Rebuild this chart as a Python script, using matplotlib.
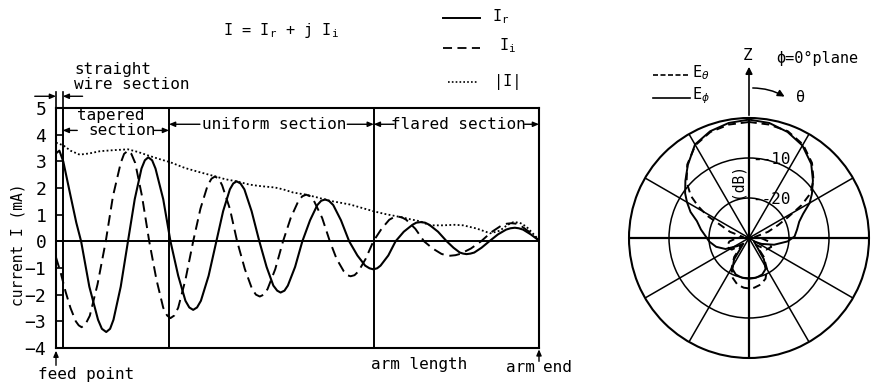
import numpy as np
import matplotlib
matplotlib.use("Agg")
import matplotlib.pyplot as plt
from matplotlib.lines import Line2D
from matplotlib.patches import FancyArrowPatch

plt.rcParams['font.family'] = ['DejaVu Sans Mono', 'DejaVu Sans']
plt.rcParams['mathtext.fontset'] = 'dejavusans'

# --- current distribution along the arm (x: 0 = feed point, 100 = arm end) ---
ir_x = [0, 0.7, 1.5, 2.9, 4.2, 5.2,
        6.9, 8.7, 9.5, 10.4, 11.2, 11.9, 13.4, 14.9,
        16.3, 17.7, 18.4, 19.1, 19.9, 20.6, 22.2, 23.7,
        25.3, 26.8, 27.6, 28.4, 29.2, 30.0, 31.6, 33.2,
        34.6, 36.0, 36.7, 37.4, 38.2, 39.0, 40.5, 42.1,
        43.6, 45.0, 45.8, 46.5, 47.3, 48.0, 49.5, 51.0,
        52.6, 54.1, 54.9, 55.7, 56.5, 57.4, 59.0, 60.7,
        62.4, 64.0, 64.9, 65.7, 66.5, 67.2, 68.8, 70.3,
        72.0, 73.8, 74.6, 75.5, 76.4, 77.3, 79.1, 80.9,
        82.3, 83.6, 84.3, 85.0, 85.8, 86.6, 88.1, 89.7,
        91.5, 93.2, 94.1, 95.0, 95.8, 96.7, 98.3, 100]
ir_y = [3.3, 3.4, 3.0, 1.8, 0.7, 0,
        -1.7, -2.94, -3.28, -3.4, -3.28, -2.94, -1.7, 0,
        1.58, 2.73, 3.04, 3.15, 3.04, 2.73, 1.58, 0,
        -1.29, -2.23, -2.48, -2.57, -2.48, -2.23, -1.29, 0,
        1.13, 1.95, 2.17, 2.25, 2.17, 1.95, 1.13, 0,
        -0.96, -1.66, -1.85, -1.92, -1.85, -1.66, -0.96, 0,
        0.79, 1.36, 1.52, 1.57, 1.52, 1.36, 0.79, 0,
        -0.53, -0.91, -1.01, -1.05, -1.01, -0.91, -0.53, 0,
        0.36, 0.62, 0.70, 0.72, 0.70, 0.62, 0.36, 0,
        -0.24, -0.42, -0.46, -0.48, -0.46, -0.42, -0.24, 0,
        0.26, 0.44, 0.49, 0.51, 0.49, 0.44, 0.26, 0.03]

ii_x = [0, 1.0, 2.0, 3.0, 4.1, 4.7, 5.3, 6.1, 7.0, 8.6, 10.3,
        11.8, 13.4, 14.1, 14.9, 15.6, 16.4, 17.8, 19.3,
        20.8, 22.2, 23.0, 23.7, 24.5, 25.3, 26.8, 28.4,
        29.9, 31.4, 32.2, 32.9, 33.7, 34.4, 36.0, 37.5,
        39.1, 40.6, 41.4, 42.2, 43.0, 43.8, 45.4, 47.0,
        48.6, 50.2, 51.0, 51.8, 52.6, 53.4, 55.1, 56.7,
        58.1, 59.6, 60.3, 61.0, 61.8, 62.6, 64.1, 65.7,
        67.4, 69.0, 69.9, 70.7, 71.6, 72.5, 74.4, 76.2,
        78.0, 79.8, 80.7, 81.6, 82.7, 83.7, 85.9, 88.0,
        90.1, 92.2, 93.3, 94.3, 95.3, 96.2, 98.1, 100]
ii_y = [-0.6, -1.2, -1.9, -2.5, -3.0, -3.15, -3.22, -3.11, -2.79, -1.61, 0,
        1.7, 2.94, 3.28, 3.4, 3.28, 2.94, 1.7, 0,
        -1.44, -2.49, -2.78, -2.88, -2.78, -2.49, -1.44, 0,
        1.22, 2.1, 2.35, 2.43, 2.35, 2.1, 1.22, 0,
        -1.04, -1.79, -2.0, -2.07, -2.0, -1.79, -1.04, 0,
        0.88, 1.52, 1.69, 1.75, 1.69, 1.52, 0.88, 0,
        -0.66, -1.13, -1.27, -1.31, -1.27, -1.13, -0.66, 0,
        0.47, 0.81, 0.90, 0.93, 0.90, 0.81, 0.47, 0,
        -0.27, -0.47, -0.52, -0.54, -0.52, -0.47, -0.27, 0,
        0.34, 0.59, 0.66, 0.68, 0.66, 0.59, 0.34, 0.03]

iabs_x = [0, 1.5, 3.0, 4.9, 7.0, 9.1, 12.0, 14.9, 17.0, 19.4, 21.5, 23.6, 26.7, 29.6, 32.9, 35.0, 37.4,
          40.0, 41.9, 43.5, 45.3, 47.0, 49.1, 51.8, 54.0, 56.7, 60.9, 65.7, 68.0, 70.5, 73.3, 75.4, 77.4,
          80.1, 82.5, 84.3, 87.1, 89.9, 91.9, 93.5, 94.7, 96.0, 97.4, 100]
iabs_y = [3.7, 3.6, 3.4, 3.25, 3.3, 3.38, 3.42, 3.45, 3.35, 3.2, 3.08, 2.97, 2.75, 2.6, 2.44, 2.33, 2.25,
          2.13, 2.08, 2.05, 2.02, 1.95, 1.83, 1.75, 1.65, 1.52, 1.38, 1.13, 1.03, 0.94, 0.83, 0.75, 0.6,
          0.6, 0.62, 0.6, 0.48, 0.3, 0.4, 0.62, 0.72, 0.7, 0.55, 0.05]

section_bounds = [1.4, 23.4, 65.8]
yticks = [-4, -3, -2, -1, 0, 1, 2, 3, 4, 5]

# --- radiation pattern, phi = 0 plane (theta clockwise from Z, degrees; level in dB) ---
ephi_th = [0, 10, 20, 30, 40, 48, 55, 60, 66, 72, 80, 88, 95, 105, 115, 125, 135, 145, 152, 160, 170, 180,
           190, 200, 208, 215, 225, 235, 245, 255, 265, 272, 280, 288, 294, 300, 305, 312, 320, 330, 340,
           350, 360]
ephi_db = [-0.4, -0.8, -1.8, -3.3, -5.8, -8.5, -10.8, -12.5, -15.2, -16.8, -17.8, -18.6, -20.3, -23.5,
           -26.5, -28.5, -27.5, -23.5, -21.2, -20.3, -19.9, -19.8, -19.9, -20.3, -21.2, -23.5, -28.0,
           -26.5, -23.5, -21.5, -20.0, -19.2, -17.8, -16.3, -14.0, -12.1, -10.5, -8.6, -6.2, -3.0, -1.6,
           -0.8, -0.4]
eth_th = [0, 10, 20, 30, 40, 48, 54, 58, 62, 66, 72, 80, 90, 100, 112, 124, 134, 142, 150, 158, 166, 174,
          180, 186, 194, 202, 210, 218, 226, 236, 248, 260, 270, 280, 288, 294, 298, 302, 306, 312, 320,
          330, 340, 350, 360]
eth_db = [-1.0, -1.2, -1.6, -3.0, -5.5, -8.3, -11.0, -14.5, -19.0, -22.0, -25.0, -28.5, -27.0, -25.0,
          -24.0, -24.8, -27.5, -24.0, -21.0, -19.0, -18.0, -17.5, -17.4, -17.5, -18.0, -19.2, -21.3,
          -24.0, -27.5, -24.8, -24.0, -25.0, -27.0, -28.5, -25.0, -22.5, -18.2, -15.0, -12.0, -9.0,
          -6.0, -3.2, -1.8, -1.2, -1.0]

W, H = 873, 383
fig = plt.figure(figsize=(W / 100, H / 100), dpi=100)


def fx(px):
    return px / W


def fy(py):
    return 1 - py / H


# ---------------- left panel ----------------
ax = fig.add_axes([fx(56), fy(348), fx(539) - fx(56), fy(108) - fy(348)])
ax.set_xlim(0, 100)
ax.set_ylim(-4, 5)
ax.plot(ir_x, ir_y, color='black', lw=1.5)
ax.plot(ii_x, ii_y, color='black', lw=1.4, linestyle=(0, (5.5, 3)))
ax.plot(iabs_x, iabs_y, color='black', lw=1.3, linestyle=(0, (1, 1.3)))
ax.axhline(0, color='black', lw=1.4)
for xb in section_bounds:
    ax.axvline(xb, color='black', lw=1.4)

ax.set_xticks([])
ax.set_yticks(yticks)
ax.tick_params(axis='y', direction='in', length=5, width=1.2, pad=7, labelsize=13)
for s in ax.spines.values():
    s.set_linewidth(1.5)

fs = 11.5
arrow = dict(arrowstyle='-|>,head_length=0.35,head_width=0.15', color='black', lw=1.0,
             shrinkA=0, shrinkB=0)


def arr(x0, x1, y):
    ax.annotate('', xy=(x1, y), xytext=(x0, y), arrowprops=arrow, annotation_clip=False)


ax.text(11.4, 4.72, 'tapered', fontsize=fs, ha='center', va='center')
ax.text(13.6, 4.16, 'section', fontsize=fs, ha='center', va='center')
arr(4.4, 1.4, 4.16)
arr(20.3, 23.4, 4.16)
ax.text(45.1, 4.39, 'uniform section', fontsize=fs, ha='center', va='center')
arr(29.8, 23.4, 4.39)
arr(60.3, 65.8, 4.39)
ax.text(83.4, 4.39, 'flared section', fontsize=fs, ha='center', va='center')
arr(70.0, 65.8, 4.39)
arr(97.0, 100, 4.39)

ax.text(3.9, 6.45, 'straight', fontsize=fs, ha='left', va='center')
ax.text(3.7, 5.89, 'wire section', fontsize=fs, ha='left', va='center')
arr(-4.4, 0, 5.44)
arr(5.5, 1.4, 5.44)
for xb in [0, 1.4]:
    ax.plot([xb, xb], [5.0, 5.6], color='black', lw=1.2, clip_on=False)

ax.annotate('', xy=(0, -4.1), xytext=(0, -4.65), arrowprops=arrow, annotation_clip=False)
ax.text(-3.8, -5.0, 'feed point', fontsize=fs, ha='left', va='center')
ax.text(75.2, -4.6, 'arm length', fontsize=fs, ha='center', va='center')
ax.annotate('', xy=(100, -4.05), xytext=(100, -4.5), arrowprops=arrow, annotation_clip=False)
ax.text(99.2, -4.72, 'arm', fontsize=fs, ha='right', va='center')
ax.text(100.8, -4.72, 'end', fontsize=fs, ha='left', va='center')

fig.text(fx(18), fy(245), 'current I (mA)', rotation=90, fontsize=10.5, ha='center', va='center')

fig.text(fx(223), fy(31), r'I = I$_\mathregular{r}$ + j I$_\mathregular{i}$', fontsize=11,
         ha='left', va='center')
fig.add_artist(Line2D([fx(443), fx(480)], [fy(18), fy(18)], color='black', lw=1.4))
fig.add_artist(Line2D([fx(443), fx(480)], [fy(48), fy(48)], color='black', lw=1.3,
                      linestyle=(0, (5, 3))))
fig.add_artist(Line2D([fx(448), fx(478)], [fy(82), fy(82)], color='black', lw=1.2,
                      linestyle=(0, (1, 1.3))))
fig.text(fx(492), fy(17), r'I$_\mathregular{r}$', fontsize=11, ha='left', va='center')
fig.text(fx(499), fy(46), r'I$_\mathregular{i}$', fontsize=11, ha='left', va='center')
fig.text(fx(494), fy(82), '|I|', fontsize=11, ha='left', va='center')

# ---------------- polar panel ----------------
pax = fig.add_axes([fx(629), fy(358), fx(869) - fx(629), fy(118) - fy(358)], projection='polar')
pax.set_theta_zero_location('N')
pax.set_theta_direction(-1)
pax.set_rlim(-30, 0)
pax.set_rticks([-20, -10])
pax.set_yticklabels([])
pax.set_thetagrids(range(0, 360, 30), labels=[])
pax.grid(True, color='black', lw=1.1)
pax.spines['polar'].set_linewidth(1.5)
for a in [0, 90]:
    pax.plot(np.deg2rad([a, a]), [-30, 0], color='black', lw=1.6)
    pax.plot(np.deg2rad([a + 180, a + 180]), [-30, 0], color='black', lw=1.6)
pax.plot(np.deg2rad(ephi_th), ephi_db, color='black', lw=1.4)
pax.plot(np.deg2rad(eth_th), eth_db, color='black', lw=1.4, linestyle=(0, (4, 2.5)))

fig.text(fx(752), fy(160), '--10', fontsize=11.5, ha='left', va='center')
fig.text(fx(752), fy(199), '--20', fontsize=11.5, ha='left', va='center')
fig.text(fx(737), fy(180), '(dB)', fontsize=10.5, rotation=90, ha='center', va='center')

fig.add_artist(FancyArrowPatch((fx(749), fy(118)), (fx(749), fy(64)), transform=fig.transFigure,
                               arrowstyle='-|>,head_length=4,head_width=2', color='black', lw=1.2))
fig.text(fx(748), fy(55), 'Z', fontsize=11.5, ha='center', va='center')
fig.add_artist(FancyArrowPatch((fx(750), fy(88)), (fx(787), fy(98)), transform=fig.transFigure,
                               connectionstyle='arc3,rad=-0.15',
                               arrowstyle='-|>,head_length=4,head_width=2', color='black', lw=1.1))
fig.text(fx(796), fy(98), 'θ', fontsize=11, ha='left', va='center')
fig.text(fx(776), fy(58), 'ϕ=0°plane', fontsize=11, ha='left', va='center')

fig.add_artist(Line2D([fx(653), fx(690)], [fy(75), fy(75)], color='black', lw=1.2,
                      linestyle=(0, (3, 1.5))))
fig.add_artist(Line2D([fx(653), fx(690)], [fy(98), fy(98)], color='black', lw=1.2))
fig.text(fx(692), fy(73), r'E$_\theta$', fontsize=11, ha='left', va='center')
fig.text(fx(692), fy(96), r'E$_\phi$', fontsize=11, ha='left', va='center')

fig.savefig('out.png', dpi=100)
